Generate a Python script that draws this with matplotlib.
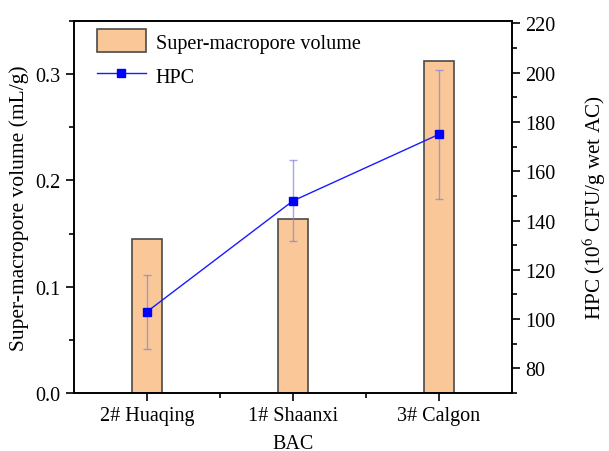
import matplotlib
matplotlib.use("Agg")
import matplotlib.pyplot as plt
from matplotlib.ticker import MultipleLocator, FixedLocator

plt.rcParams['font.family'] = ['Liberation Serif', 'DejaVu Serif']
plt.rcParams['mathtext.fontset'] = 'stix'

categories = ["2# Huaqing", "1# Shaanxi", "3# Calgon"]
volume = [0.145, 0.1635, 0.312]
hpc = [103, 148, 175]
hpc_err = [15, 16.5, 26.3]

FS = 14.5
fig = plt.figure(figsize=(6.09, 4.52), dpi=100)
ax = fig.add_axes([74/609, 1-394/452, (512-74)/609, (394-22)/452])
x = list(range(len(categories)))
b = ax.bar(x, volume, width=0.2, color='#FAC898', edgecolor='#4a4a4a', linewidth=1.2,
           label='Super-macropore volume', zorder=2)
ax.set_xlim(-0.5, 2.5)
ax.set_ylim(0, 0.35)
ax.set_xticks(x)
ax.set_xticklabels(categories)
ax.xaxis.set_minor_locator(FixedLocator([0.5, 1.5]))
ax.yaxis.set_major_locator(MultipleLocator(0.1))
ax.yaxis.set_minor_locator(MultipleLocator(0.05))
ax.set_ylabel('Super-macropore volume (mL/g)', fontsize=15.5, labelpad=5)
ax.set_xlabel('BAC', fontsize=FS, labelpad=6)
ax.tick_params(axis='both', which='major', direction='out', length=6, width=1.2, labelsize=FS)
ax.tick_params(axis='both', which='minor', direction='out', length=3.5, width=1.2)
for s in ax.spines.values():
    s.set_linewidth(1.2)

ax2 = ax.twinx()
ax2.errorbar(x, hpc, yerr=hpc_err, fmt='none', ecolor='#8080e0', alpha=0.7,
             elinewidth=1.0, capsize=3, capthick=1.0, zorder=3)
l, = ax2.plot(x, hpc, color='#1a1aff', linewidth=1.0, marker='s', markersize=6,
              markerfacecolor='#0000ff', markeredgecolor='#0000ff', label='HPC', zorder=4)
ax2.set_ylim(70, 221)
ax2.yaxis.set_minor_locator(MultipleLocator(10))
ax2.set_yticks([80, 100, 120, 140, 160, 180, 200, 220])
ax2.set_ylabel('HPC (10$^6$ CFU/g wet AC)', fontsize=15.2, labelpad=18)
ax2.tick_params(axis='y', which='major', direction='out', length=6, width=1.2, labelsize=FS)
ax2.tick_params(axis='y', which='minor', direction='out', length=3.5, width=1.2)
for s in ax2.spines.values():
    s.set_linewidth(1.2)

ax.legend(handles=[b, l], loc='upper left', bbox_to_anchor=(0.03, 1.005), frameon=False,
          fontsize=FS, handlelength=2.4, handleheight=1.4, handletextpad=0.5,
          borderaxespad=0.2, borderpad=0.3, labelspacing=0.55)

fig.savefig('out.png', dpi=100)
